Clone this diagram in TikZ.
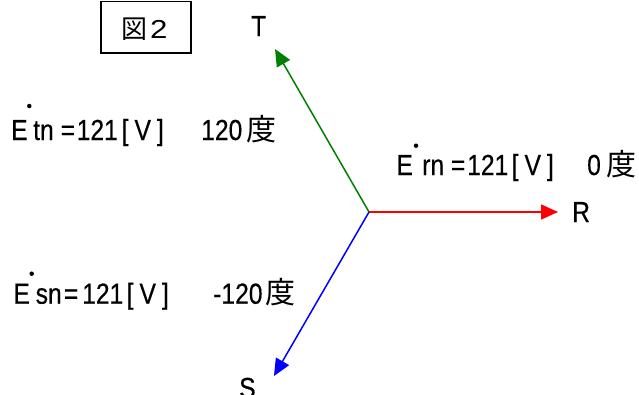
\documentclass[tikz,border=0pt]{standalone}
\usepackage{fontspec}
\setmainfont{Liberation Sans}[FakeStretch=0.85,FakeBold=0.4]
\newfontfamily\jfont{Noto Sans CJK JP}
\newfontfamily\wfont{Liberation Sans}[FakeStretch=1.2]
\usetikzlibrary{arrows.meta}
\newcommand\unitV{[\hspace{6pt}V\hspace{6pt}]}
\tikzset{
  lab/.style={inner sep=0pt, anchor=base west, font=\fontsize{29}{29}\selectfont},
  jlab/.style={inner sep=0pt, anchor=base west, font=\fontsize{30}{30}\selectfont\jfont},
  vec/.style={line width=1.5pt, -{Triangle[length=17pt,width=15pt]}},
  edot/.style={fill=black, circle, inner sep=0pt, minimum size=4.5pt},
  framebox/.style={draw, line width=1.6pt},
}
\begin{document}
\begin{tikzpicture}[x=1pt,y=-1pt]
\useasboundingbox (0,0) rectangle (639,394);
% title box
\draw[framebox] (101,1.5) rectangle (191,53);
\node[inner sep=0pt, anchor=base west, font=\fontsize{26}{26}\selectfont\jfont] (zu) at (121,38) {図};
\node[inner sep=0pt, anchor=base west, font=\fontsize{26}{26}\selectfont\wfont] (two) at (150,38) {2};
% vectors
\coordinate (n) at (369,212);
\coordinate (r) at (558,212);
\coordinate (t) at (275,49);
\coordinate (s) at (274,376);
\draw[vec,red] (n) -- (r);
\draw[vec,green!50!black] (n) -- (t);
\draw[vec,blue] (n) -- (s);
\node[lab] (R) at (572,222) {R};
\node[lab] (T) at (251,36) {T};
\node[lab] (S) at (239,398) {S};
% T label
\node[lab] (tE) at (11,140) {E};
\node[edot] (tdot) at (29.3,106) {};
\node[lab] (tsub) at (33,140) {tn};
\node[lab] (teq) at (60.5,140) {=};
\node[lab] (tval) at (76.5,140) {121};
\node[lab] (tunit) at (121.5,140) {\unitV};
\node[lab] (tang) at (201,140) {120};
\node[jlab] (tdo) at (246.5,140) {度};
% R label
\node[lab] (rE) at (396.3,175) {E};
\node[edot] (rdot) at (416,145.7) {};
\node[lab] (rsub) at (422,175) {rn};
\node[lab] (req) at (450.8,175) {=};
\node[lab] (rval) at (467,175) {121};
\node[lab] (runit) at (511.5,175) {\unitV};
\node[lab] (rang) at (587,175) {0};
\node[jlab] (rdo) at (606,175) {度};
% S label
\node[lab] (sE) at (13.3,303.7) {E};
\node[edot] (sdot) at (31.7,273.7) {};
\node[lab] (ssub) at (35.5,303.7) {sn};
\node[lab] (seq) at (63.8,303.7) {=};
\node[lab] (sval) at (82,303.7) {121};
\node[lab] (sunit) at (126.5,303.7) {\unitV};
\node[lab] (sang) at (213,303.7) {-120};
\node[jlab] (sdo) at (265.5,303.7) {度};
\end{tikzpicture}
\end{document}
